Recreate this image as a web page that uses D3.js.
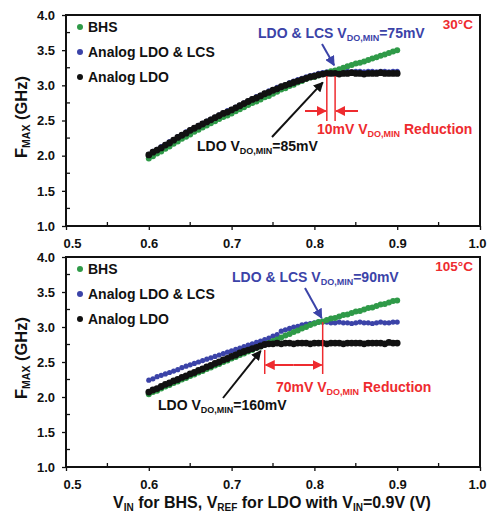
<!DOCTYPE html>
<html>
<head>
<meta charset="utf-8">
<script src="https://cdn.jsdelivr.net/npm/d3@7/dist/d3.min.js"></script>
<style>
  body { margin: 0; background: #fff; }
  svg text { font-family: Arial, "Liberation Sans", sans-serif; font-weight: bold; }
</style>
</head>
<body>
<div class="chart"></div>
<script>
// V_IN (BHS) / V_REF (LDO) sweep, volts
var vin = [0.600, 0.605, 0.610, 0.615, 0.620, 0.625, 0.630, 0.635, 0.640, 0.645,
           0.650, 0.655, 0.660, 0.665, 0.670, 0.675, 0.680, 0.685, 0.690, 0.695,
           0.700, 0.705, 0.710, 0.715, 0.720, 0.725, 0.730, 0.735, 0.740, 0.745,
           0.750, 0.755, 0.760, 0.765, 0.770, 0.775, 0.780, 0.785, 0.790, 0.795,
           0.800, 0.805, 0.810, 0.815, 0.820, 0.825, 0.830, 0.835, 0.840, 0.845,
           0.850, 0.855, 0.860, 0.865, 0.870, 0.875, 0.880, 0.885, 0.890, 0.895, 0.900];

// FMAX (GHz) at 30 C
var bhs30 = [1.96, 1.99, 2.03, 2.06, 2.10, 2.13, 2.17, 2.20, 2.24, 2.27,
             2.30, 2.34, 2.37, 2.40, 2.43, 2.46, 2.49, 2.52, 2.55, 2.57,
             2.60, 2.63, 2.66, 2.69, 2.72, 2.75, 2.77, 2.80, 2.83, 2.85,
             2.88, 2.91, 2.94, 2.96, 2.99, 3.01, 3.04, 3.06, 3.09, 3.11,
             3.12, 3.14, 3.16, 3.18, 3.20, 3.21, 3.23, 3.25, 3.27, 3.29,
             3.31, 3.32, 3.34, 3.36, 3.38, 3.40, 3.42, 3.44, 3.46, 3.48, 3.50];
var lcs30 = [2.02, 2.06, 2.09, 2.13, 2.16, 2.20, 2.23, 2.27, 2.30, 2.34,
             2.37, 2.40, 2.43, 2.46, 2.49, 2.52, 2.55, 2.58, 2.61, 2.64,
             2.66, 2.69, 2.72, 2.75, 2.78, 2.81, 2.84, 2.86, 2.89, 2.92,
             2.94, 2.97, 2.99, 3.01, 3.04, 3.06, 3.08, 3.10, 3.12, 3.14,
             3.15, 3.17, 3.18, 3.19, 3.19, 3.20, 3.20, 3.19, 3.20, 3.19,
             3.20, 3.20, 3.19, 3.20, 3.20, 3.19, 3.20, 3.20, 3.19, 3.20, 3.20];
var ldo30 = [2.01, 2.05, 2.08, 2.11, 2.15, 2.18, 2.22, 2.26, 2.29, 2.32,
             2.36, 2.39, 2.42, 2.45, 2.48, 2.51, 2.54, 2.57, 2.60, 2.62,
             2.65, 2.68, 2.71, 2.74, 2.77, 2.80, 2.82, 2.85, 2.88, 2.90,
             2.93, 2.95, 2.98, 3.00, 3.02, 3.04, 3.06, 3.08, 3.10, 3.12,
             3.13, 3.15, 3.16, 3.17, 3.17, 3.17, 3.16, 3.17, 3.17, 3.18,
             3.17, 3.17, 3.16, 3.17, 3.17, 3.17, 3.18, 3.17, 3.17, 3.17, 3.17];

// FMAX (GHz) at 105 C
var bhs105 = [2.04, 2.07, 2.09, 2.12, 2.15, 2.17, 2.20, 2.22, 2.25, 2.27,
              2.30, 2.32, 2.35, 2.37, 2.40, 2.42, 2.45, 2.47, 2.50, 2.52,
              2.55, 2.57, 2.60, 2.62, 2.65, 2.67, 2.70, 2.72, 2.75, 2.77,
              2.80, 2.82, 2.85, 2.88, 2.90, 2.93, 2.95, 2.98, 3.00, 3.03,
              3.05, 3.07, 3.08, 3.10, 3.12, 3.13, 3.15, 3.17, 3.18, 3.20,
              3.22, 3.23, 3.25, 3.27, 3.28, 3.30, 3.32, 3.33, 3.35, 3.37, 3.38];
var lcs105 = [2.24, 2.26, 2.29, 2.31, 2.33, 2.35, 2.37, 2.39, 2.42, 2.44,
              2.46, 2.48, 2.50, 2.52, 2.54, 2.56, 2.58, 2.60, 2.62, 2.64,
              2.66, 2.68, 2.70, 2.72, 2.74, 2.76, 2.78, 2.80, 2.82, 2.84,
              2.87, 2.89, 2.94, 2.96, 2.98, 3.00, 3.01, 3.03, 3.04, 3.05,
              3.06, 3.07, 3.07, 3.07, 3.06, 3.06, 3.07, 3.06, 3.06, 3.05,
              3.06, 3.07, 3.06, 3.06, 3.05, 3.06, 3.07, 3.06, 3.06, 3.07, 3.07];
var ldo105 = [2.07, 2.10, 2.12, 2.15, 2.18, 2.20, 2.23, 2.25, 2.28, 2.30,
              2.33, 2.35, 2.38, 2.40, 2.43, 2.45, 2.48, 2.50, 2.53, 2.55,
              2.58, 2.60, 2.63, 2.65, 2.67, 2.69, 2.71, 2.73, 2.75, 2.76,
              2.76, 2.77, 2.76, 2.77, 2.77, 2.76, 2.77, 2.77, 2.77, 2.76,
              2.77, 2.77, 2.77, 2.76, 2.77, 2.77, 2.77, 2.76, 2.77, 2.77,
              2.77, 2.77, 2.76, 2.77, 2.77, 2.77, 2.77, 2.76, 2.78, 2.77, 2.77];

var seriesNames = ["BHS", "Analog LDO & LCS", "Analog LDO"];
var xTicks = [0.5, 0.6, 0.7, 0.8, 0.9, 1.0];
var yTicks = [1.0, 1.5, 2.0, 2.5, 3.0, 3.5, 4.0];

var GREEN = "#2f9a48", BLUE = "#3b43a8", BLACK = "#111", RED = "#ee2b2f";

var svgWidth = 487, svgHeight = 514;
var svg = d3.select(".chart").append("svg")
    .attr("width", svgWidth)
    .attr("height", svgHeight);

// arrowheads
var defs = svg.append("defs");
[["blk", BLACK], ["blu", BLUE], ["red", RED]].forEach(function(m) {
    defs.append("marker")
        .attr("id", "head-" + m[0])
        .attr("viewBox", "0 0 10 10")
        .attr("refX", 9).attr("refY", 5)
        .attr("markerWidth", 5).attr("markerHeight", 5)
        .attr("markerUnits", "strokeWidth")
        .attr("orient", "auto")
        .append("path").attr("d", "M0,0 L10,5 L0,10 z").attr("fill", m[1]);
});

// text with subscripts: parts = ["main", ["sub"], "main"...]
function richText(g, x, y, parts, size, subSize, color, anchor, drop) {
    drop = drop || 3;
    var t = g.append("text")
        .attr("x", x).attr("y", y)
        .attr("font-size", size + "px")
        .attr("fill", color)
        .attr("text-anchor", anchor || "start");
    var shift = 0;
    parts.forEach(function(p) {
        if (Array.isArray(p)) {
            t.append("tspan").attr("dy", drop - shift).attr("font-size", subSize + "px").text(p[0]);
            shift = drop;
        } else {
            t.append("tspan").attr("dy", -shift).text(p);
            shift = 0;
        }
    });
    return t;
}

function arrow(g, x1, y1, x2, y2, color, id, w) {
    g.append("line")
        .attr("x1", x1).attr("y1", y1).attr("x2", x2).attr("y2", y2)
        .attr("stroke", color).attr("stroke-width", w || 2)
        .attr("marker-end", "url(#head-" + id + ")");
}

function drawPanel(top, bottom, data, temp, ann) {
    var left = 66, right = 480;
    var x = d3.scaleLinear().domain([0.5, 1.0]).range([left, right]);
    var y = d3.scaleLinear().domain([1.0, 4.0]).range([bottom, top]);
    var g = svg.append("g");

    // minor ticks, pointing inside
    g.selectAll(".ymin").data([1.25, 1.75, 2.25, 2.75, 3.25, 3.75]).enter()
        .append("line")
        .attr("x1", left).attr("x2", left + 4)
        .attr("y1", function(d) { return y(d); })
        .attr("y2", function(d) { return y(d); })
        .attr("stroke", BLACK).attr("stroke-width", 1.3);
    g.selectAll(".xmin").data([0.55, 0.65, 0.75, 0.85, 0.95]).enter()
        .append("line")
        .attr("y1", bottom).attr("y2", bottom - 4)
        .attr("x1", function(d) { return x(d); })
        .attr("x2", function(d) { return x(d); })
        .attr("stroke", BLACK).attr("stroke-width", 1.3);

    var yAxis = g.append("g")
        .attr("transform", "translate(" + left + ",0)")
        .call(d3.axisLeft(y).tickValues(yTicks).tickFormat(d3.format(".1f")).tickSize(4).tickPadding(7));
    var xAxis = g.append("g")
        .attr("transform", "translate(0," + bottom + ")")
        .call(d3.axisBottom(x).tickValues(xTicks).tickFormat(d3.format(".1f")).tickSize(4).tickPadding(9));
    [yAxis, xAxis].forEach(function(a) {
        a.select(".domain").remove();
        a.selectAll("line").attr("stroke", BLACK).attr("stroke-width", 1.3);
        a.selectAll("text").attr("font-size", "13px").attr("fill", BLACK)
            .style("font-family", "Arial, 'Liberation Sans', sans-serif").style("font-weight", "bold");
    });
    xAxis.selectAll("text").attr("dx", function(d) { return d === 0.5 ? 6 : (d === 1.0 ? -3 : 0); });

    // frame
    g.append("rect")
        .attr("x", left).attr("y", top)
        .attr("width", right - left).attr("height", bottom - top)
        .attr("fill", "none").attr("stroke", BLACK).attr("stroke-width", 2);

    // data
    var order = [[data.lcs, BLUE, 2.6], [data.bhs, GREEN, 3], [data.ldo, BLACK, 3.4]];
    order.forEach(function(s) {
        g.append("g").selectAll("circle")
            .data(s[0]).enter()
            .append("circle")
            .attr("cx", function(d, i) { return x(vin[i]); })
            .attr("cy", function(d) { return y(d); })
            .attr("r", s[2])
            .attr("fill", s[1]);
    });

    // legend
    var legColors = [GREEN, BLUE, BLACK];
    seriesNames.forEach(function(name, i) {
        var cy = top + 12 + i * 25;
        g.append("circle").attr("cx", 80).attr("cy", cy).attr("r", 3).attr("fill", legColors[i]);
        g.append("text").attr("x", 88).attr("y", cy + 5)
            .attr("font-size", "14px").attr("fill", BLACK).text(name);
    });

    // temperature
    g.append("text").attr("x", 473).attr("y", top + 14)
        .attr("text-anchor", "end").attr("font-size", "13.5px").attr("fill", RED).text(temp);

    ann(g, x, y);
}

drawPanel(15, 226, { bhs: bhs30, lcs: lcs30, ldo: ldo30 }, "30°C", function(g, x, y) {
    richText(g, 258, 38, ["LDO & LCS V", ["DO,MIN"], "=75mV"], 14, 9, BLUE);
    arrow(g, 322, 44, x(0.825) - 1, y(3.20) - 6, BLUE, "blu", 2);
    arrow(g, 272, 137, x(0.815) - 4, y(3.17) + 9, BLACK, "blk", 2);
    richText(g, 197, 151, ["LDO V", ["DO,MIN"], "=85mV"], 14, 9, BLACK);
    // V_DO,MIN markers
    [0.815, 0.825].forEach(function(v) {
        g.append("line").attr("x1", x(v)).attr("x2", x(v)).attr("y1", 76).attr("y2", 121)
            .attr("stroke", RED).attr("stroke-width", 1.5);
    });
    arrow(g, 305, 111, x(0.815) - 1, 111, RED, "red", 2);
    arrow(g, 358, 111, x(0.825) + 1, 111, RED, "red", 2);
    richText(g, 317, 134, ["10mV V", ["DO,MIN"], " Reduction"], 14, 9, RED);
});

drawPanel(257, 467, { bhs: bhs105, lcs: lcs105, ldo: ldo105 }, "105°C", function(g, x, y) {
    richText(g, 232, 282, ["LDO & LCS V", ["DO,MIN"], "=90mV"], 14, 9, BLUE);
    arrow(g, 305, 288, x(0.81) - 1, y(3.07) - 4, BLUE, "blu", 2);
    arrow(g, 223, 398, x(0.74) - 4, y(2.76) + 7, BLACK, "blk", 2);
    richText(g, 158, 410, ["LDO V", ["DO,MIN"], "=160mV"], 14, 9, BLACK);
    g.append("line").attr("x1", x(0.74)).attr("x2", x(0.74)).attr("y1", 350).attr("y2", 374)
        .attr("stroke", RED).attr("stroke-width", 1.5);
    g.append("line").attr("x1", x(0.81)).attr("x2", x(0.81)).attr("y1", y(3.07)).attr("y2", 374)
        .attr("stroke", RED).attr("stroke-width", 1.5);
    var mid = (x(0.74) + x(0.81)) / 2;
    arrow(g, mid, 365, x(0.74) + 1, 365, RED, "red", 2);
    arrow(g, mid, 365, x(0.81) - 1, 365, RED, "red", 2);
    richText(g, 276, 392, ["70mV V", ["DO,MIN"], " Reduction"], 14, 9, RED);
});

// y titles
[117, 358].forEach(function(cy) {
    var t = svg.append("g").attr("transform", "translate(27," + cy + ") rotate(-90)");
    richText(t, 0, 0, ["F", ["MAX"], " (GHz)"], 16.5, 10.5, BLACK, "middle");
});

// x title
richText(svg, 272, 508, ["V", ["IN"], " for BHS, V", ["REF"], " for LDO with V", ["IN"], "=0.9V (V)"], 16, 10, BLACK, "middle", 2.5);
</script>
</body>
</html>
